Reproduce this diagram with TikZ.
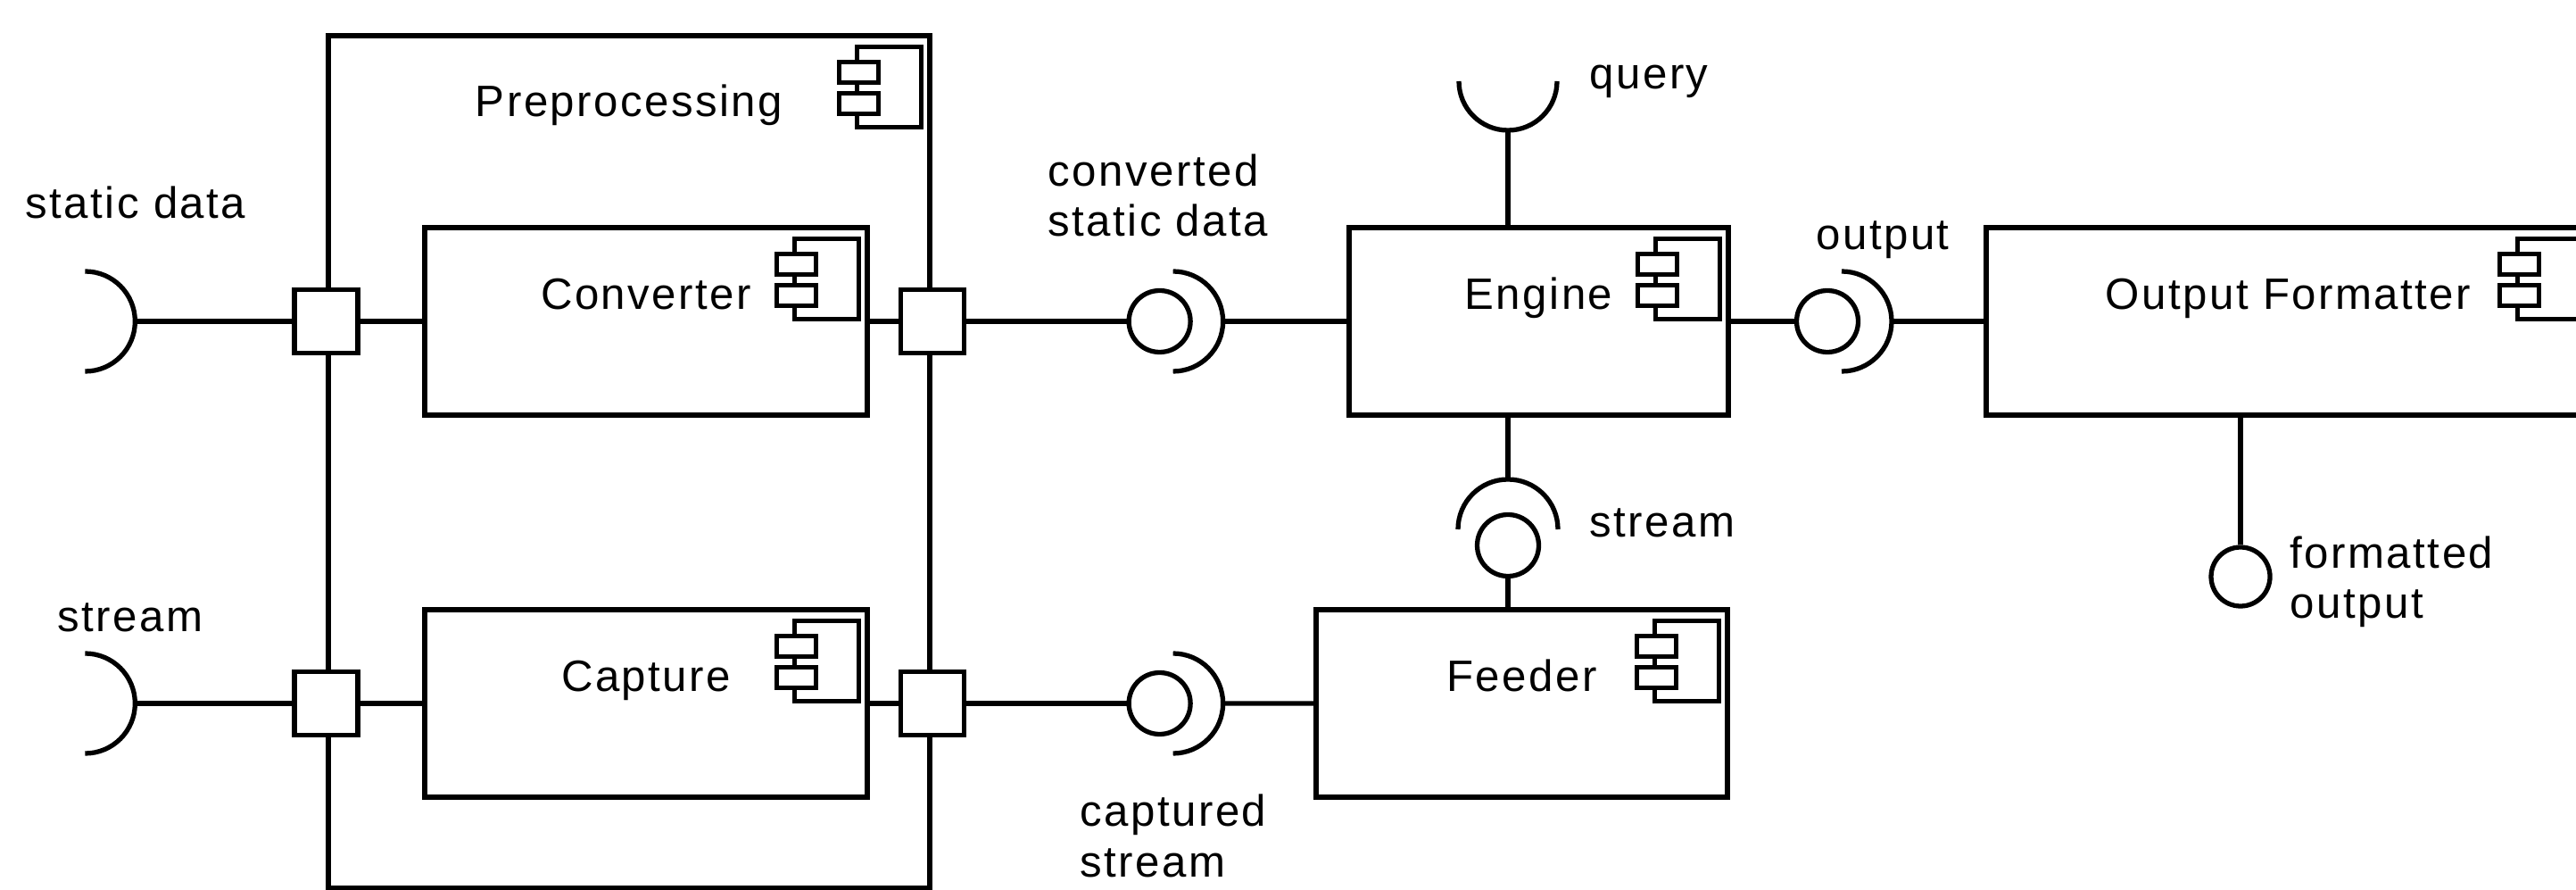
\documentclass[tikz,border=0pt]{standalone}
\usepackage{fontspec}
\setmainfont{Liberation Sans}[LetterSpace=5]
\usetikzlibrary{positioning}

\newcommand\compicon[1]{%
  \draw[icon] ([shift={(-0.84,-0.15)}]#1.north east) rectangle ([shift={(-0.12,-1.05)}]#1.north east);
  \draw[icon, fill=white] ([shift={(-1.04,-0.32)}]#1.north east) rectangle ([shift={(-0.60,-0.55)}]#1.north east);
  \draw[icon, fill=white] ([shift={(-1.04,-0.67)}]#1.north east) rectangle ([shift={(-0.60,-0.90)}]#1.north east);
}

\begin{document}
\begin{tikzpicture}[node distance=2cm, on grid, line width=1.5pt,
  font=\fontsize{14}{16}\selectfont,
  comp/.style={draw, minimum height=2.10cm, inner sep=0pt},
  port/.style={draw, fill=white, minimum size=0.71cm, inner sep=0pt},
  ball/.style={draw, fill=white, circle, minimum size=0.69cm, inner sep=0pt},
  compname/.style={anchor=base, inner sep=0pt},
  lbl/.style={inner sep=0pt, align=left},
  icon/.style={line width=1.5pt}]
  \useasboundingbox (0,0) rectangle (28.87,-9.97);

  \node[comp, minimum width=6.74cm, minimum height=9.55cm] (pre) at (7.05,-5.175) {};
  \node[comp, minimum width=4.96cm] (conv) at (7.24,-3.60) {};
  \node[comp, minimum width=4.96cm] (capt) [below=4.28cm of conv] {};
  \node[comp, minimum width=4.25cm] (engine) at (17.245,-3.60) {};
  \node[comp, minimum width=4.61cm] (feeder) at (17.055,-7.88) {};
  \node[comp, minimum width=6.77cm] (of) at (25.645,-3.60) {};

  \node (pret) [below=0.93cm of pre.north, compname] {Preprocessing};
  \node (convt) [below=0.94cm of conv.north, compname] {Converter};
  \node (captt) [below=0.94cm of capt.north, compname] {Capture};
  \node (enginet) [below=0.94cm of engine.north, compname] {Engine};
  \node (feedert) [below=0.94cm of feeder.north, compname] {Feeder};
  \node (oft) [below=0.94cm of of.north, compname] {Output Formatter};
  \compicon{pre}
  \compicon{conv}
  \compicon{capt}
  \compicon{engine}
  \compicon{feeder}
  \compicon{of}

  \node[port] (sdport) at (pre.west |- conv) {};
  \node[port] (stport) at (pre.west |- capt) {};
  \node[port] (cvport) at (pre.east |- conv) {};
  \node[port] (cpport) at (pre.east |- capt) {};

  \coordinate (sdsock) at ([xshift=-2.14cm]sdport.center);
  \coordinate (stsock) at ([xshift=-2.14cm]stport.center);
  \node[ball] (csball) [right=2.55cm of cvport] {};
  \node[ball] (cpball) [right=2.55cm of cpport] {};
  \node[ball] (opball) at (20.48,-3.60) {};
  \node[ball] (stball) at (16.90,-6.11) {};
  \node[ball, minimum size=0.66cm] (foball) at (25.11,-6.46) {};
  \coordinate (cssock) at ([xshift=0.71cm]csball.center);
  \coordinate (cpsock) at ([xshift=0.71cm]cpball.center);
  \coordinate (opsock) at ([xshift=0.72cm]opball.center);
  \coordinate (ensock) at ([yshift=0.74cm]stball.center);
  \coordinate (qsock) at (16.90,-1.46);

  \draw (sdsock) arc[start angle=0, end angle=90, radius=0.56]
        (sdsock) arc[start angle=0, end angle=-90, radius=0.56];
  \draw (stsock) arc[start angle=0, end angle=90, radius=0.56]
        (stsock) arc[start angle=0, end angle=-90, radius=0.56];
  \draw (cssock) arc[start angle=0, end angle=90, radius=0.56]
        (cssock) arc[start angle=0, end angle=-90, radius=0.56];
  \draw (cpsock) arc[start angle=0, end angle=90, radius=0.56]
        (cpsock) arc[start angle=0, end angle=-90, radius=0.56];
  \draw (opsock) arc[start angle=0, end angle=90, radius=0.56]
        (opsock) arc[start angle=0, end angle=-90, radius=0.56];
  \draw (ensock) arc[start angle=90, end angle=180, radius=0.56]
        (ensock) arc[start angle=90, end angle=0, radius=0.56];
  \draw (qsock) arc[start angle=270, end angle=180, radius=0.55]
        (qsock) arc[start angle=270, end angle=360, radius=0.55];

  \path
  (sdsock) edge (sdport)
  (sdport) edge (conv)
  (stsock) edge (stport)
  (stport) edge (capt)
  (conv) edge (cvport)
  (capt) edge (cpport)
  (cvport) edge (csball)
  (cpport) edge (cpball)
  (cssock) edge (engine)
  (cpsock) edge (feeder)
  (engine) edge (opball)
  (opsock) edge (of)
  (qsock) edge (qsock |- engine.north)
  (ensock) edge (ensock |- engine.south)
  (stball) edge (stball |- feeder.north)
  (foball) edge (foball |- of.south)
  ;

  \node[lbl, anchor=base] (sdlbl) at (1.52,-2.45) {static data};
  \node[lbl, anchor=base] (stlbl) at (1.46,-7.08) {stream};
  \node[lbl, anchor=base west] (cslbl) at (11.72,-2.65) {converted\\static data};
  \node[lbl, anchor=base west] (qlbl) at (17.79,-1.00) {query};
  \node[lbl, anchor=base] (oplbl) at (21.10,-2.80) {output};
  \node[lbl, anchor=base west] (enlbl) at (17.79,-6.02) {stream};
  \node[lbl, anchor=base west] (cplbl) at (12.08,-9.82) {captured\\stream};
  \node[lbl, anchor=base west] (folbl) at (25.64,-6.93) {formatted\\output};
\end{tikzpicture}
\end{document}
